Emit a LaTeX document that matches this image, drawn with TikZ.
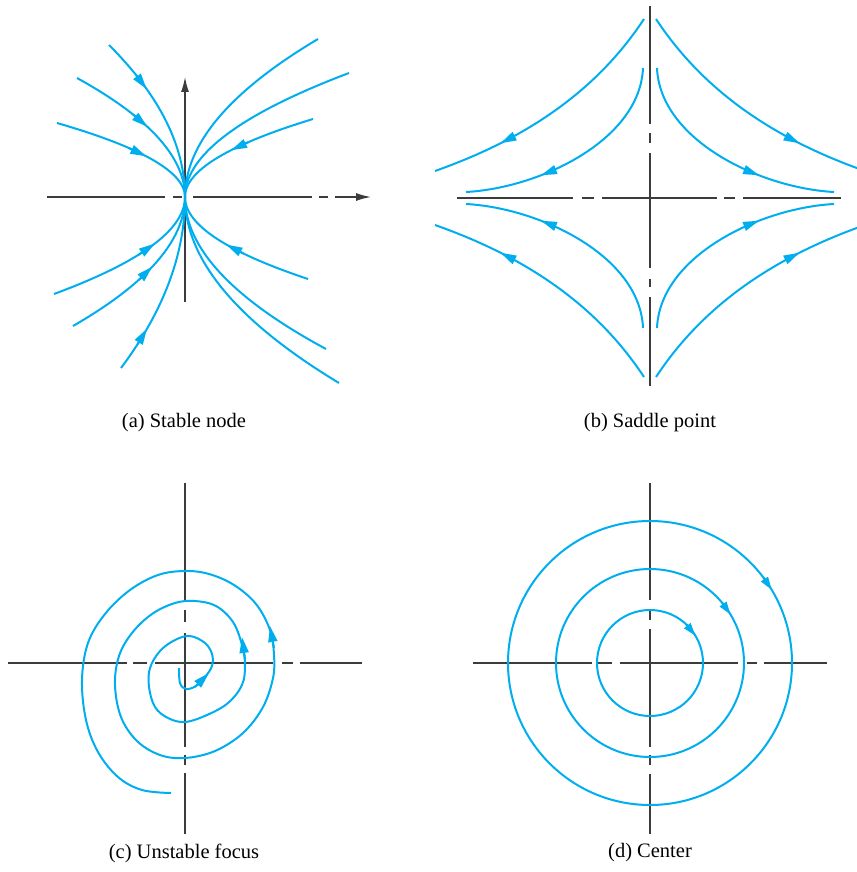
\documentclass[tikz,border=0pt]{standalone}
\usepackage{fontspec}
\setmainfont{Liberation Serif}
\usetikzlibrary{arrows.meta,decorations.markings}
\definecolor{cyanblue}{RGB}{0,174,239}
\definecolor{axisgray}{RGB}{60,60,60}
\begin{document}
\begin{tikzpicture}[x=1pt,y=-1pt,
  flow/.style={color=cyanblue, line width=2pt},
  ax/.style={draw=axisgray, line width=1.4pt},
  ftip/.style={-{Triangle[length=16pt,width=9pt]}},
  dtip/.style={-{Triangle[length=13pt,width=8pt]}},
  atip/.style={-{Latex[length=15pt,width=8pt]}, color=axisgray},
  arrowmark/.style={postaction={decorate},
    decoration={markings, mark=at position #1 with {\arrow{Triangle[length=16pt,width=9pt]}}}},
  captext/.style={font=\fontsize{20.5}{24}\selectfont, inner sep=0pt}]
\useasboundingbox (0,0) rectangle (856,872);

% ---------------- (a) stable node ----------------
\draw[ax] (47,197) -- (165,197);
\draw[ax] (173,197) -- (182,197);
\draw[ax] (193,197) -- (312,197);
\draw[ax] (319,197) -- (328,197);
\draw[ax, atip] (335,197) -- (371,197);
\draw[ax, atip] (185,302) -- (185,77);
\foreach \ex/\ey in {-76/-152, -108/-119, -128/-74, 128/-78, -131/97, -112/129, -64/171, 123/82,
                     133/-158, 164/-124, 141/152, 154/186}{
  \draw[flow] plot[domain=1:0, samples=50, variable=\t] ({185+\ex*\t*\t},{197+\ey*\t});
}
\foreach \ex/\ey/\ta in {-76/-152/0.71, -108/-119/0.59, -128/-74/0.55, 128/-78/0.6,
                         -131/97/0.48, -112/129/0.54, -64/171/0.77, 123/82/0.58}{
  \pgfmathsetmacro\spd{veclen(2*\ex*\ta,\ey)}
  \pgfmathsetmacro\tb{\ta+18/\spd}
  \draw[flow, ftip] ({185+\ex*\tb*\tb},{197+\ey*\tb}) -- ({185+\ex*\ta*\ta},{197+\ey*\ta});
}
\node[captext] (capa) at (184,423) {(a) Stable node};

% ---------------- (b) saddle point ----------------
\draw[ax] (457,198) -- (573,198);
\draw[ax] (582,198) -- (594,198);
\draw[ax] (602,198) -- (717,198);
\draw[ax] (724,198) -- (735,198);
\draw[ax] (743,198) -- (841,198);
\draw[ax] (650,6) -- (650,124);
\draw[ax] (650,133) -- (650,143);
\draw[ax] (650,153) -- (650,268);
\draw[ax] (650,279) -- (650,287);
\draw[ax] (650,297) -- (650,386);
\foreach \sx/\sy in {1/1,-1/1,1/-1,-1/-1}{
  \begin{scope}[shift={(650,198)}, xscale=\sx, yscale=\sy]
    \draw[flow, arrowmark=0.73] (-6,-179) .. controls (-56,-103) and (-130,-57) .. (-215,-27);
    \draw[flow, arrowmark=0.67] (-7,-130) .. controls (-10,-58) and (-110,-10) .. (-184,-6);
  \end{scope}
}
\node[captext] (capb) at (650,423) {(b) Saddle point};

% ---------------- (c) unstable focus ----------------
\draw[ax] (8,663) -- (127,663);
\draw[ax] (133,663) -- (147,663);
\draw[ax] (155,663) -- (273,663);
\draw[ax] (282,663) -- (293,663);
\draw[ax] (300,663) -- (362,663);
\draw[ax] (185,483) -- (185,601);
\draw[ax] (185,610) -- (185,622);
\draw[ax] (185,633) -- (185,747);
\draw[ax] (185,755) -- (185,765);
\draw[ax] (185,773) -- (185,834);
\draw[flow] plot[smooth, tension=0.6] coordinates {
 (179,668) (180,683) (186,689) (196,686) (205,677) (212,666) (212,654) (205,643)
 (190,636) (175,640) (160,651) (150,668) (149,687) (155,707) (168,718) (185,722)
 (207,715) (228,703) (242,685) (245,665) (242,645) (233,622) (216,606) (195,601)
 (175,603) (152,614) (132,633) (119,656) (115,685) (121,717) (137,741) (160,755)
 (185,758) (215,751) (243,733) (263,707) (273,678) (274,655) (270,630) (256,604)
 (234,585) (209,574) (185,571) (158,575) (130,590) (105,614) (88,643) (82,680)
 (86,720) (98,752) (118,777) (142,790) (171,793)};
\draw[flow, ftip] (195,687) -- (209,673);
\draw[flow, ftip] (245,659) -- (242,637);
\draw[flow, ftip] (274,648) -- (270,626);
\node[captext] (capc) at (184,853) {(c) Unstable focus};

% ---------------- (d) center ----------------
\draw[ax] (473,663) -- (592,663);
\draw[ax] (597,663) -- (612,663);
\draw[ax] (620,663) -- (738,663);
\draw[ax] (747,663) -- (757,663);
\draw[ax] (764,663) -- (827,663);
\draw[ax] (650,483) -- (650,600);
\draw[ax] (650,610) -- (650,620);
\draw[ax] (650,629) -- (650,747);
\draw[ax] (650,755) -- (650,765);
\draw[ax] (650,774) -- (650,834);
\foreach \r/\da in {53/16, 94/9, 142/6}{
  \draw[flow] (650,663) circle[radius=\r];
  \draw[flow, dtip]
    ({650+\r*cos(31+\da)},{663-\r*sin(31+\da)}) -- ({650+\r*cos(31)},{663-\r*sin(31)});
}
\node[captext] (capd) at (650,853) {(d) Center};
\end{tikzpicture}
\end{document}
